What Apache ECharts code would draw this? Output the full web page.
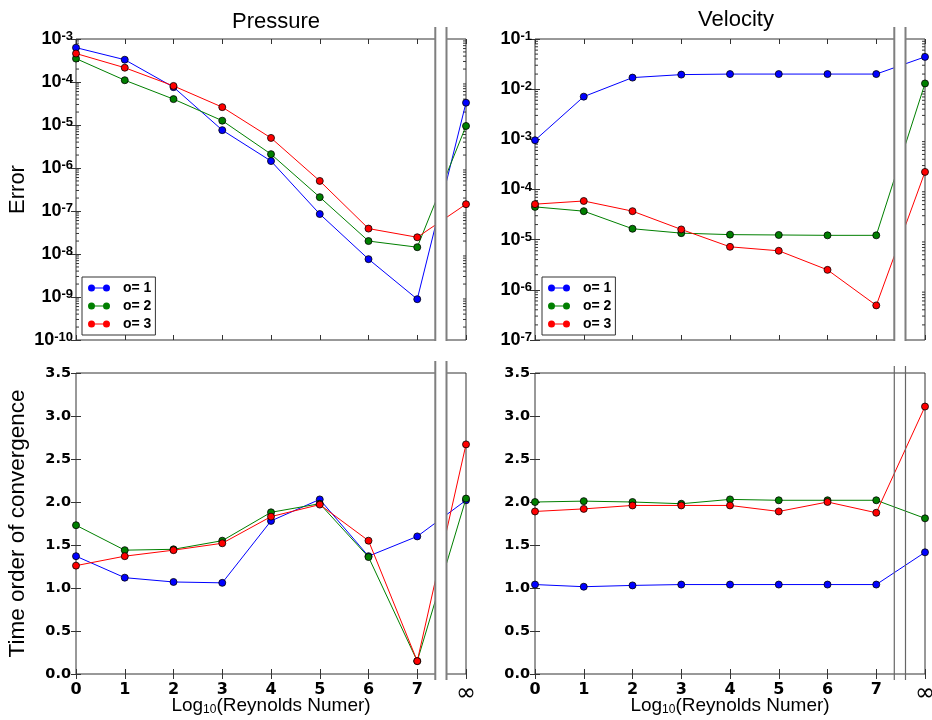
<!DOCTYPE html>
<html><head><meta charset="utf-8">
<script src="https://cdn.jsdelivr.net/npm/echarts@6/dist/echarts.min.js"></script>
<style>html,body{margin:0;padding:0;background:#fff}#c{width:932px;height:720px}</style>
</head><body><div id="c"></div>
<script>
// x positions: 0..7 = log10(Re), 8 stands for infinity
const xs = [0, 1, 2, 3, 4, 5, 6, 7, 8];
const xTickLabels = ['0', '1', '2', '3', '4', '5', '6', '7', '∞'];
const seriesNames = ['o= 1', 'o= 2', 'o= 3'];
const panelTitles = ['Pressure', 'Velocity'];

const pressureError1 = [6.3e-4, 3.3e-4, 7.6e-5, 7.6e-6, 1.45e-6, 8.5e-8, 7.6e-9, 8.9e-10, 3.3e-5];
const pressureError2 = [3.5e-4, 1.1e-4, 4.0e-5, 1.26e-5, 2.1e-6, 2.1e-7, 2.0e-8, 1.44e-8, 9.5e-6];
const pressureError3 = [4.6e-4, 2.15e-4, 8.1e-5, 2.6e-5, 5.0e-6, 5.0e-7, 3.9e-8, 2.45e-8, 1.44e-7];

const velocityError1 = [9.6e-4, 7.1e-3, 1.7e-2, 1.95e-2, 2.0e-2, 2.0e-2, 2.0e-2, 2.0e-2, 4.4e-2];
const velocityError2 = [4.5e-5, 3.7e-5, 1.65e-5, 1.35e-5, 1.26e-5, 1.24e-5, 1.22e-5, 1.22e-5, 1.3e-2];
const velocityError3 = [5.1e-5, 5.9e-5, 3.7e-5, 1.6e-5, 7.2e-6, 6.0e-6, 2.5e-6, 4.9e-7, 2.24e-4];

const pressureOrder1 = [1.37, 1.12, 1.07, 1.06, 1.78, 2.03, 1.37, 1.60, 2.02];
const pressureOrder2 = [1.73, 1.44, 1.45, 1.55, 1.88, 1.98, 1.36, 0.15, 2.04];
const pressureOrder3 = [1.26, 1.37, 1.44, 1.52, 1.83, 1.97, 1.55, 0.15, 2.67];

const velocityOrder1 = [1.04, 1.015, 1.03, 1.04, 1.04, 1.04, 1.04, 1.04, 1.415];
const velocityOrder2 = [2.00, 2.01, 2.00, 1.98, 2.03, 2.02, 2.02, 2.02, 1.81];
const velocityOrder3 = [1.89, 1.92, 1.96, 1.96, 1.96, 1.89, 2.00, 1.875, 3.11];

const GAP_START = 7.37, GAP_END = 7.60;

const FONT = 'Liberation Sans, Arial, sans-serif';
const BOLDNUM = 'DejaVu Sans, sans-serif';
const colors = ['#0000ff', '#007f00', '#ff0000'];
const panels = [
  {data: [pressureError1, pressureError2, pressureError3], log: true, min: 1e-10, max: 1e-3},
  {data: [velocityError1, velocityError2, velocityError3], log: true, min: 1e-7, max: 1e-1},
  {data: [pressureOrder1, pressureOrder2, pressureOrder3], log: false, min: 0, max: 3.5},
  {data: [velocityOrder1, velocityOrder2, velocityOrder3], log: false, min: 0, max: 3.5}
];
const grids = [
  {left: 76, top: 39, width: 390, height: 301},
  {left: 535, top: 39, width: 390, height: 301},
  {left: 76, top: 373, width: 390, height: 301},
  {left: 535, top: 373, width: 390, height: 301}
];

const chart = echarts.init(document.getElementById('c'), null, {renderer: 'canvas'});

const xAxes = [], yAxes = [], series = [];
const logLabelRich = {
  b: {fontSize: 18, fontWeight: 'bold', fontFamily: FONT, color: '#000'},
  s: {fontSize: 13, fontWeight: 'bold', fontFamily: FONT, color: '#000', verticalAlign: 'top'}
};
const xNameRich = {
  n: {fontSize: 19, fontFamily: FONT, color: '#000'},
  sub: {fontSize: 12, fontFamily: FONT, color: '#000', verticalAlign: 'bottom', padding: [8, 0, 0, 0]}
};

panels.forEach((p, i) => {
  const bottomRow = i >= 2;
  const tickStyle = {show: true, inside: true, length: 5, lineStyle: {color: '#333', width: 1}};
  xAxes.push({
    gridIndex: i, type: 'value', min: 0, max: 8, interval: 1, position: 'bottom',
    axisLine: {show: false}, splitLine: {show: false},
    axisTick: tickStyle,
    axisLabel: bottomRow ? {
      show: true, margin: 8, showMinLabel: true, showMaxLabel: true, hideOverlap: false,
      formatter: v => v === 8 ? '{inf|' + xTickLabels[8] + '}' : '{d|' + xTickLabels[v] + '}',
      rich: {
        d: {fontSize: 16, fontWeight: 'bold', fontFamily: BOLDNUM, color: '#000'},
        inf: {fontSize: 24, fontFamily: 'DejaVu Sans, sans-serif', color: '#000'}
      }
    } : {show: false},
    name: bottomRow ? '{n|Log}{sub|10}{n|(Reynolds Numer)}' : '',
    nameLocation: 'middle', nameGap: 22, nameMoveOverlap: false,
    nameTextStyle: {rich: xNameRich, fontFamily: FONT, fontSize: 19, color: '#000'}
  });
  xAxes.push({
    gridIndex: i, type: 'value', min: 0, max: 8, interval: 1, position: 'top',
    axisLine: {show: false}, splitLine: {show: false},
    axisTick: tickStyle, axisLabel: {show: false}
  });
  const yCommon = p.log ? {type: 'log', logBase: 10, min: p.min, max: p.max}
                        : {type: 'value', min: p.min, max: p.max, interval: 0.5};
  let yName = '';
  if (i === 0) yName = 'Error';
  if (i === 2) yName = 'Time order of convergence';
  yAxes.push(Object.assign({
    gridIndex: i, position: 'left',
    axisLine: {show: false}, splitLine: {show: false},
    axisTick: tickStyle,
    axisLabel: p.log ? {
      show: true, margin: 3,
      formatter: v => '{b|10}{s|' + Math.round(Math.log10(v)) + '}',
      rich: logLabelRich
    } : {
      show: true, margin: 5, fontSize: 14.5, fontWeight: 'bold', fontFamily: BOLDNUM, color: '#000',
      formatter: v => v.toFixed(1)
    },
    name: yName, nameLocation: 'middle', nameGap: 47, nameMoveOverlap: false,
    nameTextStyle: {fontSize: i === 0 ? 22 : 22.5, fontFamily: FONT, color: '#000'}
  }, yCommon));
  yAxes.push(Object.assign({
    gridIndex: i, position: 'right',
    axisLine: {show: false}, splitLine: {show: false},
    axisTick: tickStyle, axisLabel: {show: false}
  }, yCommon));

  p.data.forEach((arr, k) => {
    series.push({
      name: seriesNames[k], type: 'line', xAxisIndex: i * 2, yAxisIndex: i * 2,
      data: xs.map((x, j) => [x, arr[j]]),
      clip: true, symbol: 'circle', symbolSize: 7,
      lineStyle: {color: colors[k], width: 1},
      itemStyle: {color: colors[k], borderColor: '#000', borderWidth: 0.8},
      emphasis: {disabled: true}, z: 3 + k
    });
  });

  if (p.log) {
    // minor ticks of the log axis (2..9 x 10^n), on left and right edges
    const minorVals = [];
    const e0 = Math.round(Math.log10(p.min)), e1 = Math.round(Math.log10(p.max));
    for (let e = e0; e < e1; e++) for (let m = 2; m <= 9; m++) minorVals.push([4, m * Math.pow(10, e)]);
    series.push({
      type: 'custom', xAxisIndex: i * 2, yAxisIndex: i * 2, silent: true, z: 1,
      data: minorVals,
      renderItem: (params, api) => {
        const a = api.coord([0, api.value(1)]);
        const b = api.coord([8, api.value(1)]);
        return {type: 'group', children: [
          {type: 'line', shape: {x1: a[0], y1: a[1], x2: a[0] + 3, y2: a[1]}, style: {stroke: '#333', lineWidth: 1}},
          {type: 'line', shape: {x1: b[0] - 3, y1: b[1], x2: b[0], y2: b[1]}, style: {stroke: '#333', lineWidth: 1}}
        ]};
      }
    });
  }
});

const legendIcon = 'path://M0,3.5 A3.5,3.5 0 1,1 7,3.5 A3.5,3.5 0 1,1 0,3.5 Z M15,3.5 A3.5,3.5 0 1,1 22,3.5 A3.5,3.5 0 1,1 15,3.5 Z M3.5,3 L18.5,3 L18.5,4 L3.5,4 Z';
const legendCommon = {
  orient: 'vertical', top: 277, data: seriesNames, selectedMode: false,
  icon: legendIcon, itemWidth: 22, itemHeight: 7, itemGap: 2,
  padding: [3, 4, 3, 6], borderColor: '#333', borderWidth: 1, backgroundColor: '#fff',
  itemStyle: {borderWidth: 0},
  textStyle: {fontSize: 14, fontWeight: 'bold', fontFamily: FONT, color: '#000', lineHeight: 16, padding: [0, 0, 0, 8]},
  z: 20
};

const option = {
  animation: false,
  backgroundColor: '#fff',
  title: [
    {text: panelTitles[0], left: 271, top: 6, textAlign: 'center', textStyle: {fontSize: 22, fontWeight: 'normal', fontFamily: FONT, color: '#000'}},
    {text: panelTitles[1], left: 731, top: 4, textAlign: 'center', textStyle: {fontSize: 22, fontWeight: 'normal', fontFamily: FONT, color: '#000'}}
  ],
  legend: [Object.assign({left: 82}, legendCommon), Object.assign({left: 542}, legendCommon)],
  grid: grids.map(g => Object.assign({show: true, borderColor: '#333', borderWidth: 1, backgroundColor: 'transparent', containLabel: false, outerBoundsMode: 'none'}, g)),
  xAxis: xAxes,
  yAxis: yAxes,
  series: series
};
chart.setOption(option);

// broken-axis markers
const gfx = [];
panels.forEach((p, i) => {
  const xL = chart.convertToPixel({xAxisIndex: i * 2}, GAP_START);
  const xR = chart.convertToPixel({xAxisIndex: i * 2}, GAP_END);
  const yT = chart.convertToPixel({yAxisIndex: i * 2}, p.max);
  const yB = chart.convertToPixel({yAxisIndex: i * 2}, p.min);
  if (i < 3) {
    gfx.push({type: 'rect', shape: {x: xL, y: yT - 14, width: xR - xL, height: yB - yT + 16}, style: {fill: '#fff'}, z: 50, silent: true});
    const bottomExt = i === 2 ? 6 : 1;
    [xL, xR].forEach(x => gfx.push({type: 'line', shape: {x1: x, y1: yT - 12, x2: x, y2: yB + bottomExt}, style: {stroke: '#7f7f7f', lineWidth: 2}, z: 51, silent: true}));
  } else {
    [xL, xR].forEach(x => gfx.push({type: 'line', shape: {x1: x, y1: yT - 7, x2: x, y2: yB + 6}, style: {stroke: '#666', lineWidth: 1.2}, z: 51, silent: true}));
  }
});
chart.setOption({graphic: gfx});
</script>
</body></html>
